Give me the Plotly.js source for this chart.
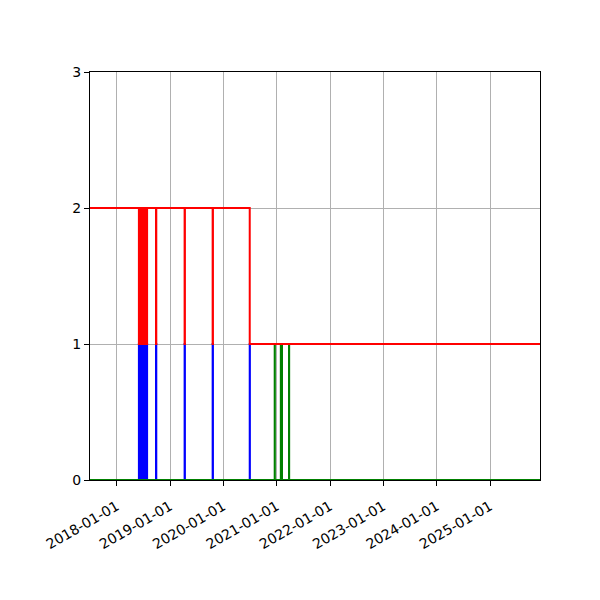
<!DOCTYPE html>
<html>
<head>
<meta charset="utf-8">
<script src="https://cdn.plot.ly/plotly-3.0.1.min.js"></script>
<style>
  html, body { margin: 0; padding: 0; background: #fff; }
  #chart { width: 600px; height: 600px; }
</style>
</head>
<body>
<div id="chart"></div>
<script>
// step series (value holds until next timestamp)
var blueDates = [
    '2017-07-02', '2018-06-02', '2018-06-04', '2018-06-10', '2018-06-12',
    '2018-06-18', '2018-06-20', '2018-06-26', '2018-06-28', '2018-07-04',
    '2018-07-06', '2018-07-12', '2018-07-14', '2018-07-20', '2018-07-22',
    '2018-07-26', '2018-07-28', '2018-09-27', '2018-09-29', '2019-04-11',
    '2019-04-13', '2019-10-20', '2019-10-22', '2020-06-30', '2020-07-01',
    '2025-12-09'
];
var blueValues = [
    0, 1, 0, 1, 0,
    1, 0, 1, 0, 1,
    0, 1, 0, 1, 0,
    1, 0, 1, 0, 1,
    0, 1, 0, 1, 0,
    0
];

var redDates = [
    '2017-07-02', '2018-06-02', '2018-06-04', '2018-06-10', '2018-06-12',
    '2018-06-18', '2018-06-20', '2018-06-26', '2018-06-28', '2018-07-04',
    '2018-07-06', '2018-07-12', '2018-07-14', '2018-07-20', '2018-07-22',
    '2018-07-26', '2018-07-28', '2018-09-27', '2018-09-29', '2019-04-11',
    '2019-04-13', '2019-10-20', '2019-10-22', '2020-06-30', '2025-12-09'
];
var redValues = [
    2, 1, 2, 1, 2,
    1, 2, 1, 2, 1,
    2, 1, 2, 1, 2,
    1, 2, 1, 2, 1,
    2, 1, 2, 1, 1
];

var greenDates = [
    '2017-07-02', '2020-12-18', '2020-12-19', '2021-01-29', '2021-02-06',
    '2021-03-26', '2021-03-27', '2025-12-09'
];
var greenValues = [0, 1, 0, 1, 0, 1, 0, 0];

function stepTrace(x, y, color) {
    return {
        x: x,
        y: y,
        type: 'scatter',
        mode: 'lines',
        line: { color: color, width: 2, shape: 'hv' },
        hoverinfo: 'skip'
    };
}

var data = [
    stepTrace(blueDates, blueValues, '#0000ff'),
    stepTrace(greenDates, greenValues, '#008000'),
    stepTrace(redDates, redValues, '#ff0000')
];

var axisFont = { family: 'DejaVu Sans', size: 14, color: '#000' };

var layout = {
    width: 600,
    height: 600,
    showlegend: false,
    paper_bgcolor: '#fff',
    plot_bgcolor: '#fff',
    margin: { t: 72, l: 90, r: 60, b: 120 },
    xaxis: {
        type: 'date',
        range: ['2017-07-02', '2025-12-09'],
        tick0: '2018-01-01',
        dtick: 'M12',
        tickformat: '%Y-%m-%d',
        tickangle: -30,
        ticks: 'outside',
        ticklen: 5,
        tickcolor: '#000',
        tickfont: axisFont,
        ticklabelstandoff: 7,
        showgrid: true,
        gridcolor: '#b0b0b0',
        gridwidth: 1,
        showline: true,
        linecolor: '#000',
        linewidth: 1,
        mirror: true,
        zeroline: false,
        fixedrange: true
    },
    yaxis: {
        range: [0, 3],
        tickvals: [0, 1, 2, 3],
        ticks: 'outside',
        ticklen: 5,
        tickcolor: '#000',
        tickfont: axisFont,
        showgrid: true,
        gridcolor: '#b0b0b0',
        gridwidth: 1,
        showline: true,
        linecolor: '#000',
        linewidth: 1,
        mirror: true,
        zeroline: false,
        fixedrange: true
    }
};

Plotly.newPlot('chart', data, layout, { displayModeBar: false, staticPlot: true });
</script>
</body>
</html>
